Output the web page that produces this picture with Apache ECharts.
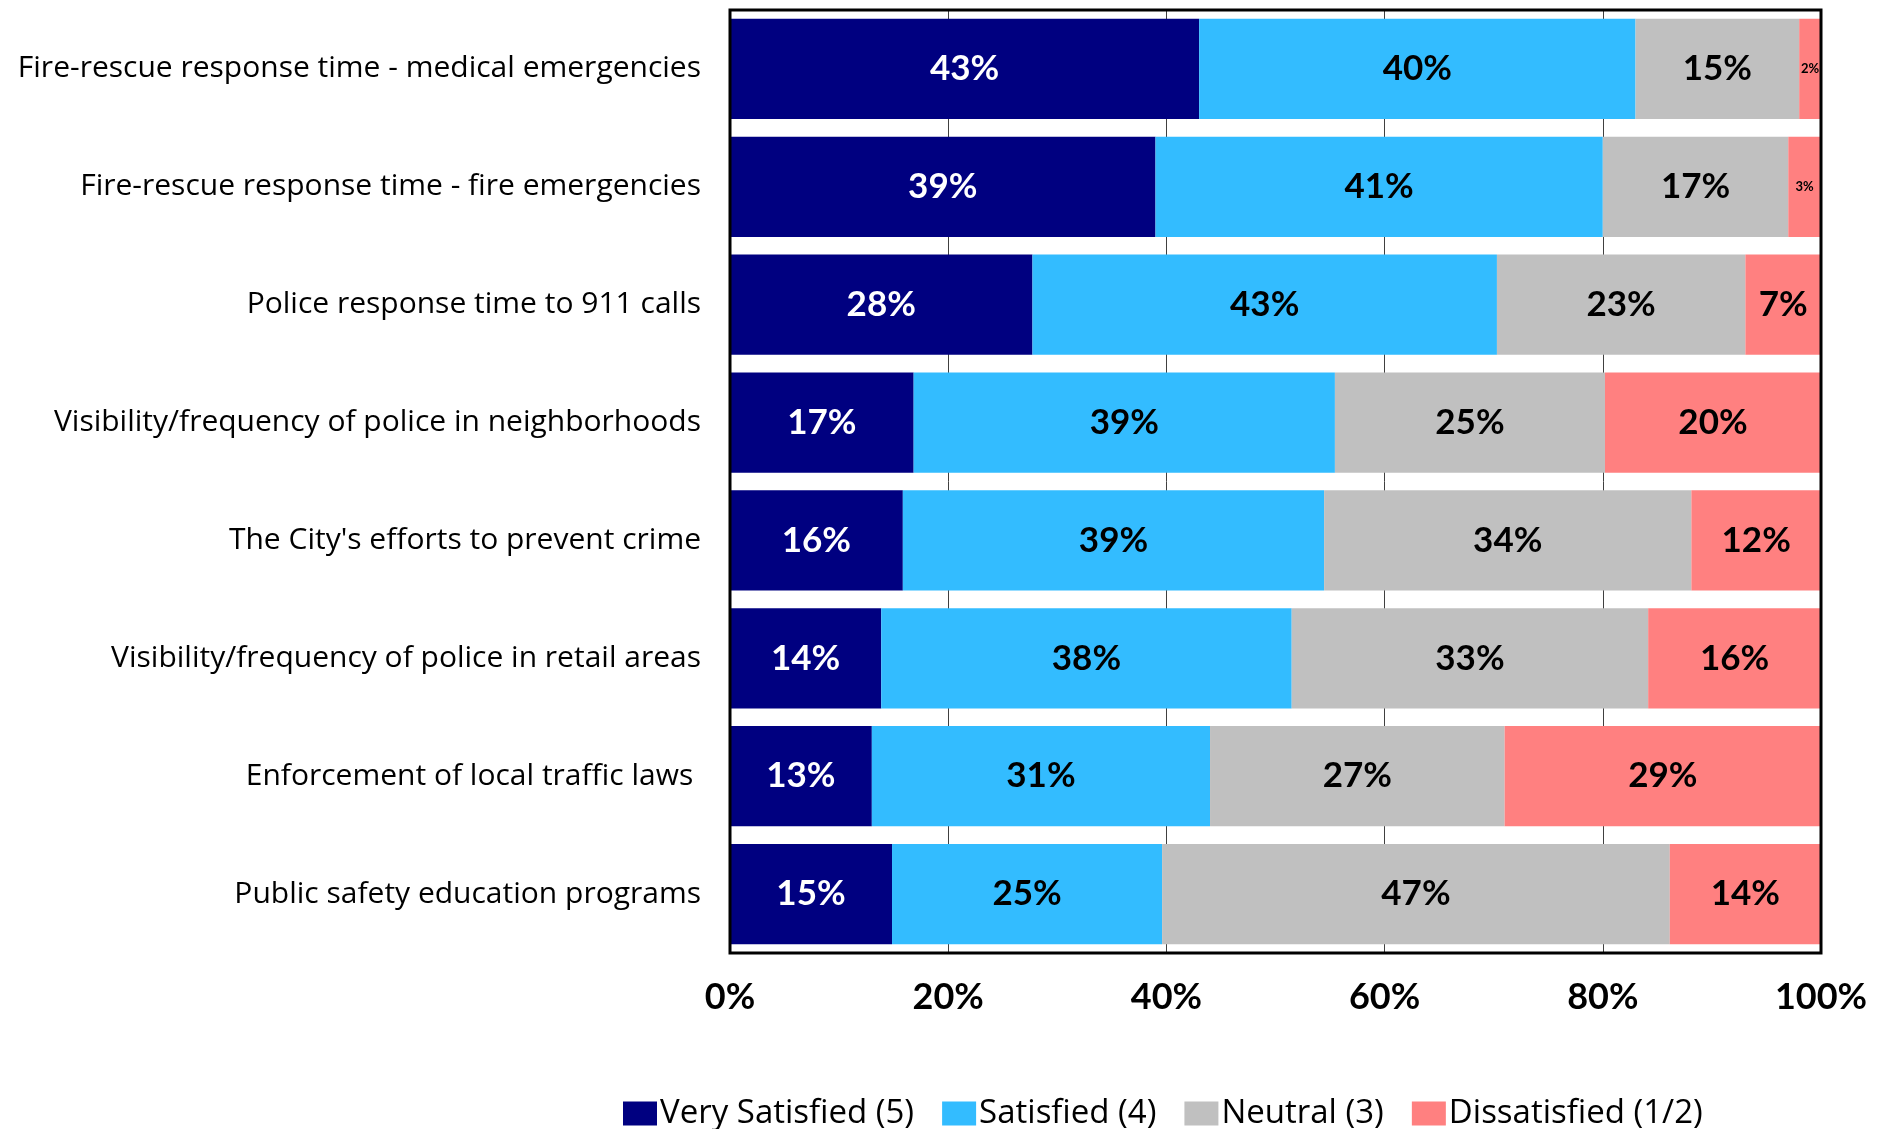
<!DOCTYPE html>
<html>
<head>
<meta charset="utf-8">
<title>Satisfaction with public safety services</title>
<script src="https://cdn.jsdelivr.net/npm/echarts@6/dist/echarts.min.js"></script>
<style>
  html, body { margin: 0; padding: 0; background: #fff; }
  #chart { width: 1891px; height: 1129px; }
</style>
</head>
<body>
<div id="chart"></div>
<script>
// categories, top to bottom
const categories = [
    'Fire-rescue response time - medical emergencies',
    'Fire-rescue response time - fire emergencies',
    'Police response time to 911 calls',
    'Visibility/frequency of police in neighborhoods',
    "The City's efforts to prevent crime",
    'Visibility/frequency of police in retail areas',
    'Enforcement of local traffic laws ',
    'Public safety education programs'
];

// percentages as labelled on the bars
const verySatisfied = [43, 39, 28, 17, 16, 14, 13, 15];
const satisfied     = [40, 41, 43, 39, 39, 38, 31, 25];
const neutral       = [15, 17, 23, 25, 34, 33, 27, 47];
const dissatisfied  = [2, 3, 7, 20, 12, 16, 29, 14];

const seriesNames = ['Very Satisfied (5)', 'Satisfied (4)', 'Neutral (3)', 'Dissatisfied (1/2)'];
const seriesColors = ['#000080', '#33BCFF', '#C0C0C0', '#FF8080'];
const xTicks = [0, 20, 40, 60, 80, 100];

document.addEventListener('DOMContentLoaded', function() {
    const chart = echarts.init(document.getElementById('chart'));
    const groups = [verySatisfied, satisfied, neutral, dissatisfied];

    // 100% stacked: each row scaled to its own total
    const rowTotals = categories.map(function(c, i) {
        return groups.reduce(function(s, g) { return s + g[i]; }, 0);
    });

    const series = groups.map(function(vals, k) {
        return {
            name: seriesNames[k],
            type: 'bar',
            stack: 'total',
            barCategoryGap: '15%',
            itemStyle: { color: seriesColors[k] },
            label: {
                show: true,
                position: 'inside',
                fontFamily: 'Lato',
                fontWeight: 'bold',
                fontSize: 35,
                color: k === 0 ? '#fff' : '#000',
                formatter: function(p) { return p.data.raw + '%'; }
            },
            data: vals.map(function(v, i) {
                const item = {
                    value: v / rowTotals[i] * 100,
                    raw: v
                };
                if (v < 5) {
                    item.label = { fontSize: 13 };
                }
                return item;
            })
        };
    });

    const option = {
        backgroundColor: '#fff',
        animation: false,
        legend: {
            data: seriesNames,
            left: 618,
            top: 1092,
            itemWidth: 34,
            itemHeight: 24,
            itemGap: 28,
            icon: 'rect',
            textStyle: { fontFamily: 'Open Sans', fontSize: 33, color: '#000', padding: [0, 0, 0, -2] }
        },
        grid: {
            left: 730,
            right: 70,
            top: 10,
            bottom: 176,
            show: true,
            borderColor: '#000',
            borderWidth: 3,
            z: 10
        },
        xAxis: {
            type: 'value',
            min: 0,
            max: 100,
            interval: 20,
            axisLine: { show: false },
            axisTick: { show: false },
            splitLine: { show: true, lineStyle: { color: '#404040', width: 1 } },
            axisLabel: {
                formatter: function(v) { return xTicks.indexOf(v) >= 0 ? v + '%' : ''; },
                fontFamily: 'Lato',
                fontWeight: 'bold',
                fontSize: 36,
                color: '#000',
                margin: 26
            }
        },
        yAxis: {
            type: 'category',
            inverse: true,
            data: categories,
            axisLine: { show: false },
            axisTick: { show: false },
            axisLabel: {
                fontFamily: 'Open Sans',
                fontSize: 30,
                color: '#000',
                margin: 29,
                padding: [5, 0, 0, 0]
            }
        },
        series: series
    };

    chart.setOption(option);
});
</script>
</body>
</html>
